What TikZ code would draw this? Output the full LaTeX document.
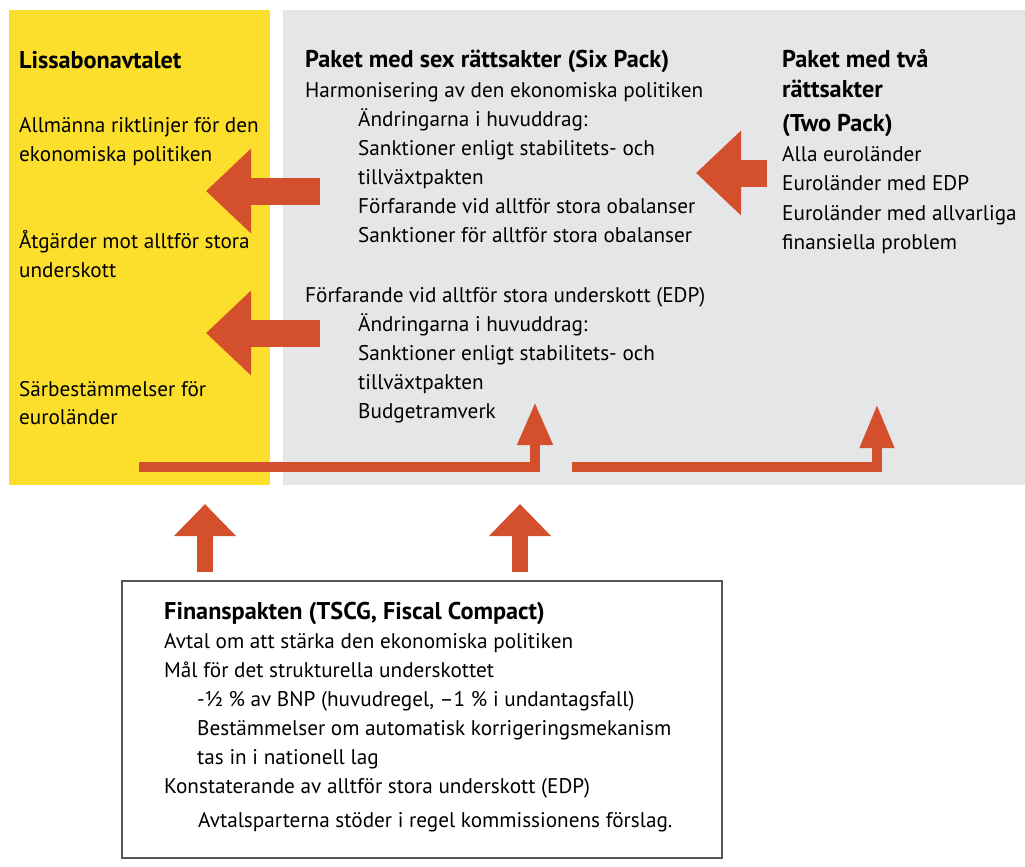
\documentclass[tikz,border=0pt]{standalone}
\usepackage{fontspec}
\setmainfont{PT Sans}
\usetikzlibrary{arrows.meta}
\definecolor{yel}{HTML}{FCDF2D}
\definecolor{gry}{HTML}{E5E6E8}
\definecolor{org}{HTML}{D4502C}
\definecolor{bord}{HTML}{555555}
\newlength\mylen
\tikzset{
  txt/.style={anchor=base west, inner sep=0pt, text=black, font=\fontsize{\fs pt}{\fs pt}\selectfont},
  hd/.style={anchor=base west, inner sep=0pt, text=black, font=\fontsize{\fsb pt}{\fsb pt}\selectfont\bfseries},
  bigarrow/.style={draw=org, line width=27pt, line cap=butt, -{Triangle[width=82pt,length=45pt]}, color=org},
  uparrow/.style={draw=org, line width=16pt, line cap=butt, -{Triangle[width=60pt,length=32pt]}, color=org},
  thinarrow/.style={draw=org, line width=10pt, line cap=butt, line join=miter, -{Triangle[width=33pt,length=43pt]}, color=org},
}
\begin{document}
\settowidth\mylen{\fontsize{10pt}{12pt}\selectfont Harmonisering av den ekonomiska politiken}%
\pgfmathsetmacro\fs{10*398/\mylen}%
\settowidth\mylen{\fontsize{10pt}{12pt}\selectfont\bfseries Paket med sex rättsakter (Six Pack)}%
\pgfmathsetmacro\fsb{10*364/\mylen}%
\begin{tikzpicture}[x=1pt,y=-1pt]
\useasboundingbox (0,0) rectangle (1025,867);
% panels
\fill[yel] (9,10) rectangle (270,485);
\fill[gry] (283,10) rectangle (1025,485);
\draw[bord, line width=1.5pt] (122,581) rectangle (722,858);
% left column
\node[hd]  (l0) at (19,68) {Lissabonavtalet};
\node[txt] (l1) at (19,132) {Allmänna riktlinjer för den};
\node[txt] (l2) at (19,161) {ekonomiska politiken};
\node[txt] (l3) at (19,248) {Åtgärder mot alltför stora};
\node[txt] (l4) at (19,277) {underskott};
\node[txt] (l5) at (19,396) {Särbestämmelser för};
\node[txt] (l6) at (19,424) {euroländer};
% middle column
\node[hd]  (m0) at (305,67) {Paket med sex rättsakter (Six Pack)};
\node[txt] (m1) at (305,97) {Harmonisering av den ekonomiska politiken};
\node[txt] (m2) at (358,126) {Ändringarna i huvuddrag:};
\node[txt] (m3) at (358,155) {Sanktioner enligt stabilitets- och};
\node[txt] (m4) at (358,184) {tillväxtpakten};
\node[txt] (m5) at (358,213) {Förfarande vid alltför stora obalanser};
\node[txt] (m6) at (358,242) {Sanktioner för alltför stora obalanser};
\node[txt] (m7) at (305,302) {Förfarande vid alltför stora underskott (EDP)};
\node[txt] (m8) at (358,331) {Ändringarna i huvuddrag:};
\node[txt] (m9) at (358,360) {Sanktioner enligt stabilitets- och};
\node[txt] (m10) at (358,389) {tillväxtpakten};
\node[txt] (m11) at (358,418) {Budgetramverk};
% right column
\node[hd]  (r0) at (782,67) {Paket med två};
\node[hd]  (r1) at (782,97) {rättsakter};
\node[hd]  (r2) at (782,131) {(Two Pack)};
\node[txt] (r3) at (782,161) {Alla euroländer};
\node[txt] (r4) at (782,190) {Euroländer med EDP};
\node[txt] (r5) at (782,220) {Euroländer med allvarliga};
\node[txt] (r6) at (782,249) {finansiella problem};
% bottom box
\node[hd]  (b0) at (164,619) {Finanspakten (TSCG, Fiscal Compact)};
\node[txt] (b1) at (164,648) {Avtal om att stärka den ekonomiska politiken};
\node[txt] (b2) at (164,677) {Mål för det strukturella underskottet};
\node[txt] (b3) at (197,706) {-½ \% av BNP (huvudregel, –1 \% i undantagsfall)};
\node[txt] (b4) at (197,735) {Bestämmelser om automatisk korrigeringsmekanism};
\node[txt] (b5) at (197,764) {tas in i nationell lag};
\node[txt] (b6) at (164,793) {Konstaterande av alltför stora underskott (EDP)};
\node[txt] (b7) at (198,827) {Avtalsparterna stöder i regel kommissionens förslag.};
% arrow coordinates
\coordinate (a1s) at (320,191);
\coordinate (a1e) at (206,191);
\coordinate (a2s) at (320,333);
\coordinate (a2e) at (206,333);
\coordinate (a3s) at (767,173);
\coordinate (a3e) at (696,173);
\coordinate (u1s) at (205,572);
\coordinate (u1e) at (205,504);
\coordinate (u2s) at (520,572);
\coordinate (u2e) at (520,504);
\coordinate (p1s) at (139,467);
\coordinate (p1e) at (535,402);
\coordinate (p2s) at (572,467);
\coordinate (p2e) at (877,404);
% arrows
\draw[bigarrow] (a1s) -- (a1e);
\draw[bigarrow] (a2s) -- (a2e);
\draw[bigarrow] (a3s) -- (a3e);
\draw[uparrow] (u1s) -- (u1e);
\draw[uparrow] (u2s) -- (u2e);
\draw[thinarrow] (p1s) -| (p1e);
\draw[thinarrow, -{Triangle[width=32pt,length=44pt]}] (p2s) -| (p2e);
\end{tikzpicture}
\end{document}
